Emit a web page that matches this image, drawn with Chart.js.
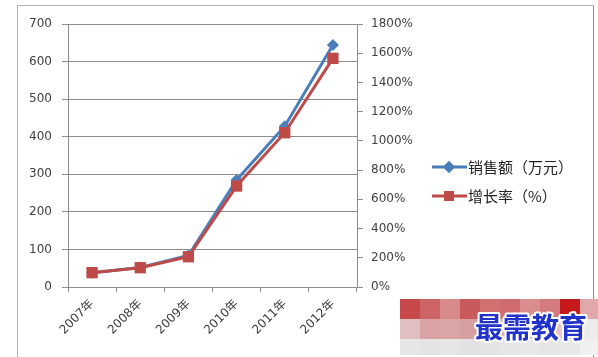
<!DOCTYPE html>
<html><head><meta charset="utf-8">
<script src="https://cdn.jsdelivr.net/npm/chart.js@4/dist/chart.umd.min.js"></script>
<style>html,body{margin:0;padding:0;background:#fff;}#wrap{position:relative;width:598px;height:357px;}</style>
</head><body><div id="wrap"><canvas id="c" width="598" height="357"></canvas></div>
<script>
const categories = ['2007年','2008年','2009年','2010年','2011年','2012年'];
const salesLabel = '销售额（万元）';
const growthLabel = '增长率（%）';
const salesValues = [38, 52, 84, 285, 428, 644];
const growthValues = [98, 132, 207, 691, 1056, 1565];
const leftTicks = [0,100,200,300,400,500,600,700];
const rightTicks = [0,200,400,600,800,1000,1200,1400,1600,1800];

const FONT = "'DejaVu Sans','Noto Sans CJK SC',sans-serif";
const CJK = "'Noto Sans CJK SC',sans-serif";
const TXT = '#404040';
const GRID = '#8c8c8c';

const framePlugin = {
  id: 'frame',
  beforeDraw(chart){
    const ctx = chart.ctx;
    ctx.save();
    ctx.fillStyle = '#fff';
    ctx.fillRect(0,0,chart.width,chart.height);
    ctx.strokeStyle = '#b5b5b5';
    ctx.lineWidth = 1;
    ctx.strokeRect(17.5, 5.5, 576, 360);
    ctx.strokeStyle = '#909090';
    ctx.beginPath(); ctx.moveTo(593.5,6); ctx.lineTo(593.5,357); ctx.stroke();
    ctx.restore();
  },
  afterDraw(chart){
    const ctx = chart.ctx;
    const ca = chart.chartArea;
    ctx.save();
    // legend
    const items = chart.data.datasets;
    const lx = ca.right + 75, ly0 = ca.top + 143, gap = 29;
    items.forEach((ds, i) => {
      const y = ly0 + i*gap;
      ctx.strokeStyle = ds.borderColor; ctx.lineWidth = 3;
      ctx.beginPath(); ctx.moveTo(lx, y); ctx.lineTo(lx+35, y); ctx.stroke();
      ctx.fillStyle = ds.backgroundColor;
      Chart.helpers.drawPoint(ctx, {pointStyle: ds.pointStyle, radius: ds.pointRadius - (i===1?1:0), rotation: 0, borderWidth: 0}, lx+17, y);
      ctx.fill();
      ctx.fillStyle = '#222';
      ctx.font = "15px " + CJK;
      ctx.textBaseline = 'middle';
      ctx.fillText(ds.label, lx+36, y);
    });
    // watermark
    const top = ['#c8474a','#cc6466','#d88a8a','#c95a5c','#d07070','#cf6b6e','#da8d8f','#d37b7e','#c41a1c','#e0a8a8'];
    const mid = ['#e0bfc0','#d9a3a6','#d9a5a7','#d6a0a3','#dcb0b2','#dcb3b5','#e2c0c1','#e3c3c4','#e6caca','#ececec'];
    const bot = ['#e6e6e6','#e4e4e4','#e6e6e6','#e2e2e2','#e4e4e4','#e6e6e6','#e8e8e8','#e6e6e6','#e8e8e8','#f0f0f0'];
    for (let k=0;k<10;k++){
      const x = 400 + k*20, w = k===9 ? 18 : 20;
      ctx.fillStyle = top[k]; ctx.fillRect(x, 299, w, 20);
      ctx.fillStyle = mid[k]; ctx.fillRect(x, 319, w, 20);
      ctx.fillStyle = bot[k]; ctx.fillRect(x, 339, w, 16);
    }
    ctx.font = "bold 28px " + CJK;
    ctx.textBaseline = 'middle';
    ctx.lineWidth = 4; ctx.strokeStyle = '#fff'; ctx.lineJoin = 'round';
    ctx.strokeText('最需教育', 475, 327);
    ctx.fillStyle = '#2233cc';
    ctx.fillText('最需教育', 475, 327);
    ctx.restore();
  }
};

new Chart(document.getElementById('c'), {
  type: 'line',
  data: {
    labels: categories,
    datasets: [
      { label: salesLabel, data: salesValues, yAxisID: 'y', borderColor: '#4a7ebb', backgroundColor: '#4a7ebb',
        borderWidth: 3, pointStyle: 'rectRot', pointRadius: 6, pointBorderWidth: 0, tension: 0, order: 2 },
      { label: growthLabel, data: growthValues, yAxisID: 'y1', borderColor: '#be4b48', backgroundColor: '#be4b48',
        borderWidth: 3, pointStyle: 'rect', pointRadius: 8, pointBorderWidth: 0, tension: 0, order: 1 }
    ]
  },
  options: {
    responsive: false, animation: false,
    layout: { padding: { left: 20, right: 181, top: 24, bottom: 4 } },
    plugins: { legend: { display: false }, tooltip: { enabled: false } },
    scales: {
      x: {
        offset: true,
        grid: { offset: true, drawOnChartArea: false, drawTicks: true, tickLength: 5, color: GRID },
        border: { color: GRID },
        ticks: { color: TXT, font: { family: FONT, size: 12 }, minRotation: 45, maxRotation: 45, padding: 5 },
        afterFit(s){ s.height = 66; }
      },
      y: {
        position: 'left', min: 0, max: 700,
        afterBuildTicks(s){ s.ticks = leftTicks.map(v => ({value: v})); },
        grid: { color: GRID, tickLength: 6 },
        border: { color: GRID },
        ticks: { color: TXT, font: { family: FONT, size: 12 }, padding: 10 },
        afterFit(s){ s.width = 48; }
      },
      y1: {
        position: 'right', min: 0, max: 1800,
        afterBuildTicks(s){ s.ticks = rightTicks.map(v => ({value: v})); },
        grid: { drawOnChartArea: false, color: GRID, tickLength: 6 },
        border: { color: GRID },
        ticks: { color: TXT, font: { family: FONT, size: 12 }, padding: 8, callback: v => v + '%' },
        afterFit(s){ s.width = 60; }
      }
    }
  },
  plugins: [framePlugin]
});
</script></body></html>
